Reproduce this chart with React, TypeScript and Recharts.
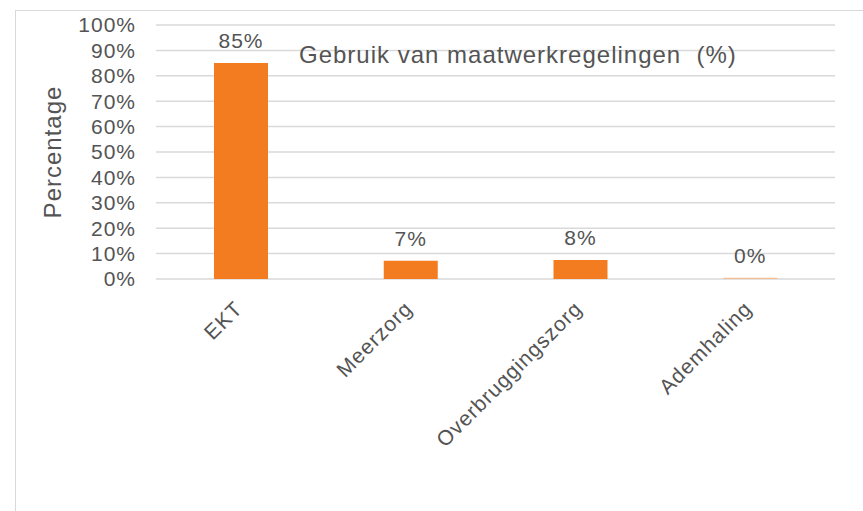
import { BarChart, Bar, XAxis, YAxis, CartesianGrid, LabelList, Cell } from 'recharts';

const categories = ['EKT', 'Meerzorg', 'Overbruggingszorg', 'Ademhaling'];
const usage = [85, 7.2, 7.5, 0.45];
const yTicks = [0, 10, 20, 30, 40, 50, 60, 70, 80, 90, 100];
const title = 'Gebruik van maatwerkregelingen  (%)';
const yLabel = 'Percentage';

const data = categories.map((name, i) => ({ name, value: usage[i] }));

const FONT = '"Liberation Sans", Arial, sans-serif';
const TEXT = '#545454';
const GRID = '#d9d9d9';
const ORANGE = '#F47C20';

function XTick({ x, y, payload }: any) {
  return (
    <text
      transform={`translate(${x + 3},${y + 29}) rotate(-45)`}
      textAnchor="end"
      fill={TEXT}
      fontSize={21}
      letterSpacing={1}
      fontFamily={FONT}
    >
      {payload.value}
    </text>
  );
}

function YTitle({ viewBox }: any) {
  const cx = viewBox.x + 52;
  const cy = viewBox.y + viewBox.height / 2;
  return (
    <text
      x={cx}
      y={cy}
      transform={`rotate(-90, ${cx}, ${cy})`}
      textAnchor="middle"
      dominantBaseline="central"
      fill={TEXT}
      fontSize={24}
      letterSpacing={1}
      fontFamily={FONT}
    >
      {yLabel}
    </text>
  );
}

export default function App() {
  return (
    <div style={{ position: 'absolute', left: 0, top: 0, width: 863, height: 511, background: '#fff', overflow: 'hidden' }}>
      <div
        style={{
          position: 'absolute',
          left: 15,
          top: 10,
          width: 900,
          height: 600,
          borderTop: `1px solid ${GRID}`,
          borderLeft: `1px solid ${GRID}`,
        }}
      />
      <BarChart width={863} height={511} data={data} margin={{ top: 25, right: 28, bottom: 0, left: 0 }}>
        <CartesianGrid vertical={false} stroke={GRID} strokeWidth={1.5} />
        <XAxis
          dataKey="name"
          height={232}
          interval={0}
          axisLine={false}
          tickLine={false}
          tickSize={0}
          tick={<XTick />}
        />
        <YAxis
          width={156}
          domain={[0, 100]}
          ticks={yTicks}
          interval={0}
          axisLine={false}
          tickLine={false}
          tickSize={0}
          tickMargin={20}
          tickFormatter={(v: number) => `${v}%`}
          tick={{ fill: TEXT, fontSize: 21, fontFamily: FONT, letterSpacing: 1 }}
          label={<YTitle />}
        />
        <Bar dataKey="value" barSize={54} isAnimationActive={false}>
          {data.map((d, i) => (
            <Cell key={i} fill={d.value < 1 ? '#F6BC92' : ORANGE} />
          ))}
          <LabelList
            dataKey="value"
            position="top"
            offset={15}
            formatter={(v: number) => `${Math.round(v)}%`}
            fill={TEXT}
            fontSize={21}
            letterSpacing={1}
            fontFamily={FONT}
          />
        </Bar>
      </BarChart>
      <div
        style={{
          position: 'absolute',
          left: 299,
          top: 43,
          fontFamily: FONT,
          fontSize: 24,
          lineHeight: '24px',
          letterSpacing: 1,
          color: TEXT,
          whiteSpace: 'pre',
        }}
      >
        {title}
      </div>
    </div>
  );
}
